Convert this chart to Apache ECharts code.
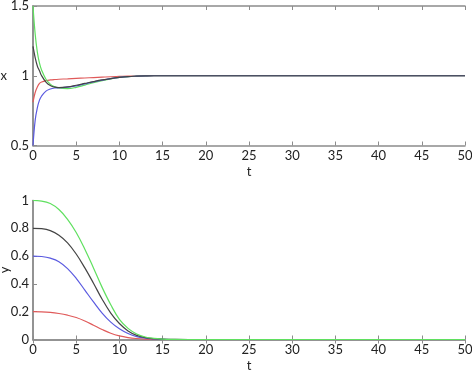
<!DOCTYPE html>
<html>
<head>
<meta charset="utf-8">
<script src="https://cdn.jsdelivr.net/npm/echarts@6/dist/echarts.min.js"></script>
<style>
  html, body { margin: 0; padding: 0; background: #fff; }
  #main { width: 472px; height: 371px; }
</style>
</head>
<body>
<div id="main"></div>
<script>
// time samples (t)
var tTop = [0, 0.25, 0.5, 0.75, 1, 1.5, 2, 2.5, 3, 4, 5, 6, 7, 8, 9, 10, 11, 12, 13, 14, 15, 16, 18, 20, 25, 30, 40, 50];
// x(t), upper panel
var xGreen = [1.5, 1.30, 1.17, 1.09, 1.04, 0.975, 0.94, 0.922, 0.912, 0.908, 0.917, 0.933, 0.950, 0.965, 0.978, 0.988, 0.994, 0.997, 0.999, 1, 1, 1, 1, 1, 1, 1, 1, 1];
var xBlack = [1.21, 1.13, 1.07, 1.035, 1.0, 0.955, 0.93, 0.918, 0.915, 0.92, 0.932, 0.945, 0.958, 0.970, 0.980, 0.988, 0.994, 0.997, 0.999, 1, 1, 1, 1, 1, 1, 1, 1, 1];
var xBlue  = [0.5, 0.68, 0.77, 0.825, 0.855, 0.89, 0.905, 0.912, 0.914, 0.918, 0.928, 0.942, 0.956, 0.968, 0.979, 0.988, 0.994, 0.997, 0.999, 1, 1, 1, 1, 1, 1, 1, 1, 1];
var xRed   = [0.81, 0.88, 0.92, 0.945, 0.955, 0.965, 0.97, 0.973, 0.975, 0.978, 0.981, 0.984, 0.987, 0.99, 0.993, 0.995, 0.997, 0.998, 0.999, 1, 1, 1, 1, 1, 1, 1, 1, 1];

// y(t), lower panel
var tBot = [0, 1, 2, 3, 4, 5, 6, 7, 8, 9, 10, 11, 12, 13, 14, 15, 16, 18, 20, 25, 30, 40, 50];
var yGreen = [1, 0.996, 0.978, 0.935, 0.865, 0.77, 0.65, 0.515, 0.375, 0.25, 0.145, 0.08, 0.04, 0.018, 0.008, 0.003, 0.001, 0, 0, 0, 0, 0, 0];
var yBlack = [0.8, 0.797, 0.783, 0.75, 0.695, 0.615, 0.515, 0.405, 0.29, 0.19, 0.115, 0.062, 0.03, 0.014, 0.006, 0.002, 0.001, 0, 0, 0, 0, 0, 0];
var yBlue  = [0.6, 0.597, 0.585, 0.56, 0.51, 0.44, 0.355, 0.27, 0.19, 0.125, 0.077, 0.043, 0.021, 0.01, 0.004, 0.001, 0, 0, 0, 0, 0, 0, 0];
var yRed   = [0.2, 0.199, 0.195, 0.187, 0.175, 0.158, 0.133, 0.103, 0.072, 0.045, 0.026, 0.014, 0.007, 0.003, 0.001, 0, 0, 0, 0, 0, 0, 0, 0];

function pairs(t, v) {
    var out = [];
    for (var i = 0; i < t.length; i++) out.push([t[i], v[i]]);
    return out;
}

var axisGray = '#8c8c8c';
var fontFam = 'Lato, "Open Sans", sans-serif';
var cGreen = '#5fe05f', cBlack = '#444444', cBlue = '#5a5ae0', cRed = '#e05a5a';

function xAx(gi, bottom) {
    return {
        type: 'value', gridIndex: gi, min: 0, max: 50, interval: 5,
        position: bottom ? 'bottom' : 'top',
        name: bottom ? 't' : '', nameLocation: 'middle', nameGap: 20, nameMoveOverlap: false,
        nameTextStyle: { color: '#222', fontSize: 13, fontFamily: fontFam },
        axisLine: { show: true, lineStyle: { color: axisGray, width: 1.5 } },
        axisTick: { show: true, inside: true, length: 4, lineStyle: { color: axisGray } },
        axisLabel: { show: bottom, color: '#222', fontSize: 13, fontFamily: fontFam, margin: 4 },
        splitLine: { show: false }
    };
}
function yAx(gi, min, max, interval, name, rotate, gap) {
    return {
        type: 'value', gridIndex: gi, min: min, max: max, interval: interval,
        name: name, nameLocation: 'middle', nameGap: gap, nameRotate: rotate, nameMoveOverlap: false,
        nameTextStyle: { color: '#222', fontSize: 13, fontFamily: fontFam },
        axisLine: { show: true, lineStyle: { color: axisGray, width: 1.5 } },
        axisTick: { show: true, inside: true, length: 4, lineStyle: { color: axisGray } },
        axisLabel: { color: '#222', fontSize: 13, fontFamily: fontFam, margin: 4 },
        splitLine: { show: false }
    };
}
function yRight(gi, min, max) {
    return {
        type: 'value', gridIndex: gi, min: min, max: max, position: 'right',
        axisLine: { show: true, lineStyle: { color: axisGray, width: 1.5 } },
        axisTick: { show: false }, axisLabel: { show: false }, splitLine: { show: false }
    };
}
function line(xi, yi, data, color) {
    return {
        type: 'line', xAxisIndex: xi, yAxisIndex: yi, data: data,
        smooth: 0.4, showSymbol: false, symbol: 'none',
        lineStyle: { color: color, width: 1.2 }, z: 3
    };
}

var option = {
    animation: false,
    backgroundColor: '#fff',
    grid: [
        { left: 33, right: 7, top: 6, height: 139.5, outerBoundsMode: 'none', containLabel: false },
        { left: 33, right: 7, top: 200.5, height: 139, outerBoundsMode: 'none', containLabel: false }
    ],
    xAxis: [xAx(0, true), xAx(0, false), xAx(1, true), xAx(1, false)],
    yAxis: [
        yAx(0, 0.5, 1.5, 0.5, 'x', 0, 26), yRight(0, 0.5, 1.5),
        yAx(1, 0, 1, 0.2, 'y', 90, 22), yRight(1, 0, 1)
    ],
    series: [
        line(0, 0, pairs(tTop, xRed), cRed),
        line(0, 0, pairs(tTop, xGreen), cGreen),
        line(0, 0, pairs(tTop, xBlue), cBlue),
        line(0, 0, pairs(tTop, xBlack), cBlack),
        line(2, 2, pairs(tBot, yRed), cRed),
        line(2, 2, pairs(tBot, yBlue), cBlue),
        line(2, 2, pairs(tBot, yBlack), cBlack),
        line(2, 2, pairs(tBot, yGreen), cGreen)
    ]
};

var myChart = echarts.init(document.getElementById('main'));
myChart.setOption(option);
</script>
</body>
</html>
